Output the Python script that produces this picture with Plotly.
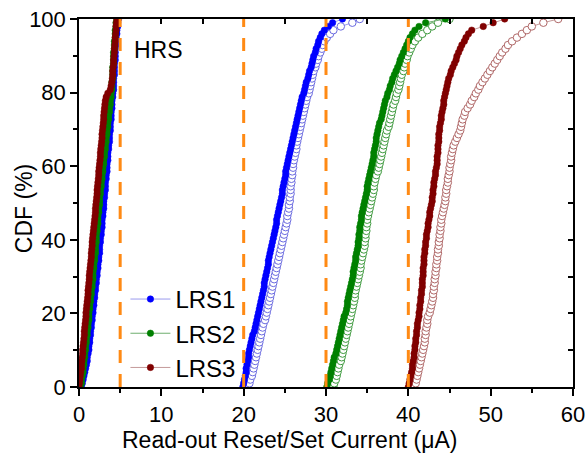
import numpy as np
import plotly.graph_objects as go

# ---- sample values (µA); CDF is computed from rank ----
hrs1 = [0.3, 0.4, 0.5, 0.6, 0.7, 0.8, 0.9, 1.0, 1.0, 1.1,
        1.2, 1.2, 1.3, 1.3, 1.4, 1.4, 1.5, 1.5, 1.6, 1.6,
        1.7, 1.7, 1.8, 1.8, 1.9, 1.9, 2.0, 2.0, 2.1, 2.1,
        2.2, 2.2, 2.3, 2.3, 2.4, 2.4, 2.5, 2.5, 2.5, 2.6,
        2.6, 2.7, 2.7, 2.8, 2.8, 2.8, 2.9, 2.9, 3.0, 3.0,
        3.0, 3.1, 3.1, 3.2, 3.2, 3.2, 3.3, 3.3, 3.4, 3.4,
        3.4, 3.5, 3.5, 3.5, 3.6, 3.6, 3.7, 3.7, 3.7, 3.8,
        3.8, 3.8, 3.9, 3.9, 3.9, 4.0, 4.0, 4.0, 4.1, 4.1,
        4.2, 4.2, 4.2, 4.2, 4.3, 4.3, 4.3, 4.3, 4.4, 4.4,
        4.4, 4.4, 4.5, 4.5, 4.5, 4.6, 4.6, 4.7, 4.7, 4.8]
hrs2 = [0.2, 0.3, 0.3, 0.4, 0.5, 0.5, 0.6, 0.6, 0.7, 0.7,
        0.8, 0.8, 0.9, 0.9, 1.0, 1.0, 1.1, 1.1, 1.2, 1.2,
        1.2, 1.3, 1.3, 1.4, 1.4, 1.5, 1.5, 1.6, 1.6, 1.7,
        1.7, 1.7, 1.8, 1.8, 1.9, 1.9, 2.0, 2.0, 2.0, 2.1,
        2.1, 2.1, 2.2, 2.2, 2.3, 2.3, 2.3, 2.4, 2.4, 2.5,
        2.5, 2.5, 2.6, 2.6, 2.7, 2.7, 2.8, 2.8, 2.9, 2.9,
        3.0, 3.0, 3.1, 3.1, 3.2, 3.2, 3.3, 3.3, 3.4, 3.4,
        3.5, 3.5, 3.6, 3.6, 3.7, 3.7, 3.8, 3.8, 3.9, 3.9,
        4.0, 4.0, 4.0, 4.1, 4.1, 4.1, 4.1, 4.2, 4.2, 4.2,
        4.2, 4.3, 4.3, 4.3, 4.4, 4.4, 4.4, 4.5, 4.5, 4.6]
hrs3 = [0.0, 0.05, 0.1, 0.15, 0.2, 0.3, 0.3, 0.35, 0.4, 0.45,
        0.45, 0.5, 0.55, 0.6, 0.65, 0.65, 0.7, 0.75, 0.8, 0.85,
        0.85, 0.9, 0.95, 1.0, 1.05, 1.1, 1.1, 1.15, 1.2, 1.25,
        1.25, 1.3, 1.35, 1.4, 1.45, 1.5, 1.5, 1.55, 1.6, 1.6,
        1.65, 1.7, 1.75, 1.8, 1.85, 1.9, 1.95, 2.0, 2.0, 2.05,
        2.1, 2.15, 2.2, 2.2, 2.25, 2.3, 2.35, 2.4, 2.4, 2.45,
        2.5, 2.55, 2.6, 2.6, 2.65, 2.7, 2.75, 2.8, 2.8, 2.85,
        2.9, 2.95, 3.0, 3.0, 3.05, 3.1, 3.15, 3.2, 3.3, 3.5,
        3.8, 3.9, 4.0, 4.05, 4.1, 4.1, 4.15, 4.2, 4.2, 4.25,
        4.3, 4.3, 4.35, 4.4, 4.4, 4.45, 4.5, 4.5, 4.55, 4.6]

lrs1_reset = [19.9, 20.0, 20.1, 20.2, 20.3, 20.3, 20.4, 20.5, 20.6, 20.6,
              20.7, 20.8, 20.9, 21.0, 21.1, 21.3, 21.4, 21.5, 21.6, 21.7,
              21.8, 21.9, 22.0, 22.1, 22.2, 22.3, 22.4, 22.5, 22.5, 22.6,
              22.7, 22.8, 22.9, 23.0, 23.0, 23.1, 23.2, 23.3, 23.4, 23.5,
              23.6, 23.7, 23.8, 23.9, 24.0, 24.0, 24.1, 24.2, 24.3, 24.4,
              24.5, 24.6, 24.7, 24.7, 24.8, 24.9, 25.0, 25.1, 25.1, 25.2,
              25.3, 25.4, 25.5, 25.6, 25.7, 25.8, 25.9, 26.0, 26.1, 26.2,
              26.3, 26.4, 26.5, 26.6, 26.7, 26.8, 26.9, 27.0, 27.1, 27.3,
              27.4, 27.5, 27.6, 27.8, 27.9, 28.0, 28.2, 28.3, 28.4, 28.5,
              28.7, 28.8, 29.0, 29.1, 29.3, 29.5, 29.8, 30.3, 30.8, 32.0]
lrs1_set = [20.5, 20.7, 20.8, 21.0, 21.1, 21.2, 21.3, 21.4, 21.5, 21.6,
            21.7, 21.8, 21.9, 22.0, 22.1, 22.2, 22.3, 22.4, 22.6, 22.7,
            22.8, 22.9, 23.0, 23.1, 23.2, 23.3, 23.4, 23.5, 23.6, 23.7,
            23.8, 23.9, 24.0, 24.1, 24.2, 24.3, 24.4, 24.5, 24.6, 24.7,
            24.8, 24.9, 25.0, 25.1, 25.2, 25.3, 25.3, 25.4, 25.5, 25.5,
            25.6, 25.6, 25.7, 25.7, 25.7, 25.8, 25.8, 25.9, 25.9, 26.0,
            26.0, 26.1, 26.2, 26.3, 26.4, 26.4, 26.5, 26.6, 26.7, 26.8,
            26.9, 27.0, 27.1, 27.2, 27.3, 27.4, 27.5, 27.6, 27.7, 27.9,
            28.0, 28.1, 28.2, 28.3, 28.4, 28.5, 28.7, 28.8, 29.0, 29.1,
            29.3, 29.5, 29.6, 29.8, 30.1, 30.5, 30.9, 31.8, 33.2, 34.1]

lrs2_reset = [30.1, 30.2, 30.4, 30.5, 30.6, 30.7, 30.8, 30.9, 31.0, 31.2,
              31.3, 31.4, 31.5, 31.6, 31.7, 31.8, 31.9, 32.0, 32.1, 32.2,
              32.4, 32.5, 32.6, 32.6, 32.7, 32.8, 32.9, 33.0, 33.1, 33.2,
              33.3, 33.3, 33.4, 33.5, 33.6, 33.6, 33.7, 33.8, 33.9, 33.9,
              34.0, 34.0, 34.1, 34.1, 34.2, 34.3, 34.3, 34.4, 34.5, 34.6,
              34.7, 34.8, 34.9, 35.0, 35.0, 35.1, 35.2, 35.3, 35.4, 35.5,
              35.6, 35.7, 35.8, 35.8, 35.9, 36.0, 36.1, 36.1, 36.2, 36.3,
              36.4, 36.5, 36.7, 36.8, 36.9, 37.0, 37.1, 37.2, 37.4, 37.5,
              37.7, 37.8, 38.0, 38.1, 38.3, 38.5, 38.7, 38.9, 39.0, 39.2,
              39.4, 39.6, 39.8, 40.0, 40.2, 40.5, 40.8, 41.3, 42.1, 44.5]
lrs2_set = [30.9, 31.0, 31.2, 31.3, 31.4, 31.5, 31.6, 31.8, 31.9, 32.0,
            32.1, 32.2, 32.3, 32.4, 32.5, 32.6, 32.7, 32.8, 32.9, 33.0,
            33.1, 33.2, 33.3, 33.4, 33.5, 33.5, 33.6, 33.7, 33.8, 33.9,
            34.0, 34.1, 34.2, 34.2, 34.3, 34.4, 34.5, 34.6, 34.7, 34.7,
            34.8, 34.8, 34.9, 34.9, 35.0, 35.0, 35.1, 35.2, 35.3, 35.4,
            35.5, 35.6, 35.7, 35.8, 35.8, 35.9, 36.0, 36.1, 36.3, 36.4,
            36.5, 36.6, 36.7, 36.8, 36.9, 37.0, 37.1, 37.2, 37.3, 37.4,
            37.6, 37.7, 37.8, 37.9, 38.0, 38.1, 38.2, 38.4, 38.5, 38.6,
            38.8, 38.9, 39.0, 39.1, 39.2, 39.4, 39.5, 39.6, 39.8, 39.9,
            40.1, 40.3, 40.5, 40.8, 41.2, 41.7, 42.3, 42.9, 43.6, 45.0]

lrs3_reset = [40.0, 40.1, 40.2, 40.3, 40.4, 40.5, 40.5, 40.6, 40.7, 40.7,
              40.8, 40.8, 40.9, 40.9, 41.0, 41.0, 41.1, 41.1, 41.2, 41.3,
              41.3, 41.4, 41.4, 41.5, 41.5, 41.6, 41.6, 41.7, 41.7, 41.7,
              41.8, 41.8, 41.8, 41.9, 41.9, 41.9, 42.0, 42.0, 42.1, 42.1,
              42.2, 42.2, 42.3, 42.4, 42.4, 42.5, 42.6, 42.6, 42.7, 42.8,
              42.9, 42.9, 43.0, 43.0, 43.1, 43.1, 43.2, 43.3, 43.3, 43.4,
              43.5, 43.5, 43.5, 43.6, 43.6, 43.6, 43.7, 43.7, 43.7, 43.8,
              43.8, 43.9, 44.0, 44.0, 44.1, 44.2, 44.3, 44.3, 44.4, 44.5,
              44.6, 44.7, 44.8, 44.9, 45.1, 45.2, 45.4, 45.6, 45.8, 45.9,
              46.1, 46.3, 46.5, 46.8, 47.0, 47.3, 47.7, 49.1, 50.3, 51.7]
lrs3_set = [40.7, 40.9, 41.0, 41.1, 41.2, 41.3, 41.4, 41.5, 41.6, 41.7,
            41.8, 41.9, 42.0, 42.0, 42.1, 42.1, 42.2, 42.3, 42.3, 42.4,
            42.6, 42.7, 42.8, 42.9, 43.0, 43.0, 43.1, 43.1, 43.2, 43.2,
            43.3, 43.3, 43.4, 43.4, 43.5, 43.5, 43.6, 43.6, 43.7, 43.7,
            43.8, 43.8, 43.9, 43.9, 44.0, 44.0, 44.1, 44.2, 44.3, 44.4,
            44.5, 44.5, 44.6, 44.6, 44.7, 44.8, 44.8, 44.9, 45.0, 45.0,
            45.1, 45.2, 45.2, 45.3, 45.4, 45.5, 45.7, 45.9, 46.1, 46.3,
            46.4, 46.5, 46.6, 46.8, 46.9, 47.2, 47.5, 47.7, 48.0, 48.2,
            48.5, 48.7, 49.0, 49.3, 49.6, 49.9, 50.2, 50.5, 50.8, 51.1,
            51.4, 51.8, 52.1, 52.6, 53.2, 53.8, 54.4, 55.0, 56.4, 58.2]

series_names = ["LRS1", "LRS2", "LRS3"]
reset_data = [lrs1_reset, lrs2_reset, lrs3_reset]
set_data = [lrs1_set, lrs2_set, lrs3_set]
hrs_data = [hrs1, hrs2, hrs3]
fill_colors = ["#0000FF", "#008000", "#800000"]
line_colors = ["#9a9aee", "#6fae6f", "#c49a9a"]
open_colors = ["#6a6ae0", "#3f9a3f", "#b06868"]
ref_lines_x = [5, 20, 30, 40]
x_ticks = [0, 10, 20, 30, 40, 50, 60]
y_ticks = [0, 20, 40, 60, 80, 100]
x_title = "Read-out Reset/Set Current (\u03bcA)"
y_title = "CDF (%)"


def cdf(values):
    v = np.sort(np.asarray(values, dtype=float))
    ranks = np.arange(len(v))
    return v, ranks / (len(v) - 1) * 100.0


FONT = "Arial, Liberation Sans, sans-serif"
FS = 22
fig = go.Figure()

# HRS clusters
for vals, fc, lc in zip(hrs_data, fill_colors, line_colors):
    xs, ys = cdf(vals)
    fig.add_trace(go.Scatter(x=xs, y=ys, mode="lines+markers", showlegend=False,
                             line=dict(color=lc, width=1),
                             marker=dict(symbol="circle", size=6.5, color=fc,
                                         line=dict(width=0.5, color=fc))))

# LRS: open (set) first, then filled (reset)
for name, sv, fc, lc, oc in zip(series_names, set_data, fill_colors, line_colors, open_colors):
    xs, ys = cdf(sv)
    fig.add_trace(go.Scatter(x=xs, y=ys, mode="lines+markers", showlegend=False,
                             line=dict(color=lc, width=1),
                             marker=dict(symbol="circle", size=7.5, color="white",
                                         line=dict(width=1, color=oc))))
for name, rv, fc, lc in zip(series_names, reset_data, fill_colors, line_colors):
    xs, ys = cdf(rv)
    fig.add_trace(go.Scatter(x=xs, y=ys, mode="lines+markers", name=name,
                             line=dict(color=lc, width=1),
                             marker=dict(symbol="circle", size=6.5, color=fc,
                                         line=dict(width=0.5, color=fc))))

# dummy trace for mirrored (inside-tick) top/right axes
fig.add_trace(go.Scatter(x=[None], y=[None], xaxis="x2", yaxis="y2",
                         showlegend=False, hoverinfo="skip"))

for xv in ref_lines_x:
    fig.add_shape(type="line", xref="x", yref="y", x0=xv, x1=xv, y0=0, y1=100,
                  line=dict(color="#FF8A14", width=3, dash="13px,11px"), layer="above")

fig.add_annotation(x=6.4, y=91.5, xref="x", yref="y", text="HRS", showarrow=False,
                   xanchor="left", yanchor="middle", font=dict(family=FONT, size=23, color="black"))
fig.add_annotation(x=0.427, y=-0.145, xref="paper", yref="paper", text=x_title, showarrow=False,
                   xanchor="center", yanchor="middle", font=dict(family=FONT, size=23, color="black"))
fig.add_annotation(x=-0.112, y=0.485, xref="paper", yref="paper", text=y_title, showarrow=False,
                   textangle=-90, xanchor="center", yanchor="middle",
                   font=dict(family=FONT, size=23, color="black"))

axis_common = dict(showgrid=False, zeroline=False, showline=True, linecolor="black",
                   linewidth=1.5, tickcolor="black", tickwidth=1.5, automargin=False)

fig.update_layout(
    width=586, height=454,
    margin=dict(l=79, r=13, t=19, b=67, autoexpand=False),
    paper_bgcolor="white", plot_bgcolor="white",
    font=dict(family=FONT, size=FS, color="black"),
    xaxis=dict(range=[0, 60], tickmode="array", tickvals=x_ticks, ticks="outside", ticklen=7,
               minor=dict(dtick=5, ticks="outside", ticklen=4, tickcolor="black", tickwidth=1.5),
               tickfont=dict(size=FS), **axis_common),
    yaxis=dict(range=[0, 100], tickmode="array", tickvals=y_ticks, ticks="outside", ticklen=7,
               minor=dict(dtick=10, ticks="outside", ticklen=4, tickcolor="black", tickwidth=1.5),
               tickfont=dict(size=FS), **axis_common),
    xaxis2=dict(range=[0, 60], overlaying="x", side="top", anchor="y2", dtick=5, tick0=0,
                ticks="inside", ticklen=5, showticklabels=False, **axis_common),
    yaxis2=dict(range=[0, 100], overlaying="y", side="right", anchor="x2", dtick=10, tick0=0,
                ticks="inside", ticklen=5, showticklabels=False, **axis_common),
    legend=dict(x=0.094, y=-0.008, xanchor="left", yanchor="bottom", bgcolor="rgba(0,0,0,0)",
                font=dict(family=FONT, size=24), tracegroupgap=0, itemwidth=40),
    showlegend=True,
)

fig.write_html("out.html", config={"displayModeBar": False},
               post_script="document.body.style.margin='0px';")
